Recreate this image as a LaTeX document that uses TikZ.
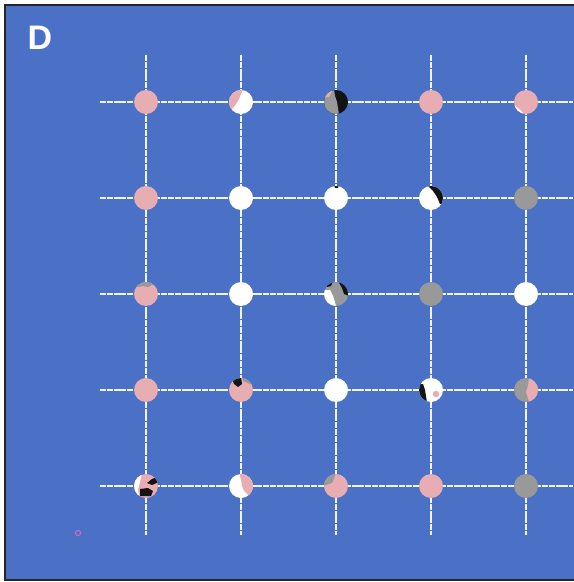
\documentclass[tikz,border=0pt]{standalone}
\usepackage{fontspec}
\setsansfont{Liberation Sans}

\definecolor{panelblue}{HTML}{4A71C6}
\definecolor{dotpink}{HTML}{E8ADB2}
\definecolor{dotgrey}{HTML}{999999}
\definecolor{dotblack}{HTML}{141414}
\definecolor{markpink}{HTML}{D66CC0}

% clipped part of a dot: node, colour, path in local px
\newcommand{\dotpart}[3]{%
  \begin{scope}[shift={(#1.center)}]
    \clip (0,0) circle (12);
    \fill[#2] #3;
  \end{scope}}

\begin{document}
\begin{tikzpicture}[
    x=0.5pt, y=-0.5pt,
    % Styles
    gridline/.style={draw=white!92!panelblue, line width=0.55pt, dash pattern=on 3pt off 0.4pt},
    dot/.style={circle, minimum size=12pt, inner sep=0pt, draw=none},
    pinkdot/.style={dot, fill=dotpink},
    whitedot/.style={dot, fill=white},
    greydot/.style={dot, fill=dotgrey},
    blackdot/.style={dot, fill=dotblack},
    panellabel/.style={text=white, font=\sffamily\bfseries\fontsize{17}{17}\selectfont},
]

%--- Panel ---%
\useasboundingbox (0,0) rectangle (573,582);
\fill[white] (0,0) rectangle (573,582);
\fill[panelblue, draw=black!85, line width=0.8pt] (5,5) rectangle (580,580);

\node[panellabel] (lbl) at (40,38) {D};

%--- Grid lines ---
% columns x: 146, 241, 336, 431, 526
% rows    y: 102, 198, 294, 390, 486
\foreach \i/\x in {1/146, 2/241, 3/336, 4/431, 5/526} {
    \coordinate (vt\i) at (\x,55);
    \coordinate (vb\i) at (\x,535);
    \draw[gridline] (vt\i) -- (vb\i);
}
\foreach \j/\y in {1/102, 2/198, 3/294, 4/390, 5/486} {
    \coordinate (hl\j) at (100,\y);
    \coordinate (hr\j) at (573,\y);
    \draw[gridline] (hl\j) -- (hr\j);
}

%--- Dots ---
% row 1
\node[pinkdot]  (r1c1) at (146,102) {};
\node[whitedot] (r1c2) at (241,102) {};
\node[blackdot] (r1c3) at (336,102) {};
\node[pinkdot]  (r1c4) at (431,102) {};
\node[pinkdot]  (r1c5) at (526,102) {};
% row 2
\node[pinkdot]  (r2c1) at (146,198) {};
\node[whitedot] (r2c2) at (241,198) {};
\node[whitedot] (r2c3) at (336,198) {};
\node[whitedot] (r2c4) at (431,198) {};
\node[greydot]  (r2c5) at (526,198) {};
% row 3
\node[pinkdot]  (r3c1) at (146,294) {};
\node[whitedot] (r3c2) at (241,294) {};
\node[greydot]  (r3c3) at (336,294) {};
\node[greydot]  (r3c4) at (431,294) {};
\node[whitedot] (r3c5) at (526,294) {};
% row 4
\node[pinkdot]  (r4c1) at (146,390) {};
\node[pinkdot]  (r4c2) at (241,390) {};
\node[whitedot] (r4c3) at (336,390) {};
\node[whitedot] (r4c4) at (431,390) {};
\node[greydot]  (r4c5) at (526,390) {};
% row 5
\node[pinkdot]  (r5c1) at (146,486) {};
\node[whitedot] (r5c2) at (241,486) {};
\node[pinkdot]  (r5c3) at (336,486) {};
\node[pinkdot]  (r5c4) at (431,486) {};
\node[greydot]  (r5c5) at (526,486) {};

%--- Mixed dots ---
\dotpart{r1c2}{dotpink}{(-13,-13) -- (2,-13) -- (0,-8) -- (-2,-3) -- (-5,2) -- (-8,6) -- (-13,9) -- cycle}
\dotpart{r1c3}{dotgrey}{(-13,-13) -- (-2,-13) -- (-1,-6) -- (1,0) -- (2,6) -- (3,13) -- (-13,13) -- cycle}
\dotpart{r1c3}{dotpink}{(-13,-13) -- (-3,-13) -- (-7,-5) -- (-13,-5) -- cycle}
\dotpart{r1c4}{dotgrey}{(13,3) -- (8,9) -- (2,13) -- (13,13) -- cycle}
\dotpart{r1c5}{white}{(-13,2) -- (-6,8) -- (-1,13) -- (-13,13) -- cycle}

\dotpart{r2c3}{dotblack}{(-2,-13) -- (3,-13) -- (2,-10) -- (-1,-10) -- cycle}
\dotpart{r2c4}{dotblack}{(-4,-13) -- (2,-7) -- (6,-1) -- (9,6) -- (14,6) -- (14,-14) -- (-4,-14) -- cycle}

\dotpart{r3c1}{dotgrey}{(-13,-14) -- (13,-14) -- (13,-8) -- (6,-9) -- (2,-7) -- (-3,-8) -- (-8,-7) -- (-13,-8) -- cycle}
\dotpart{r3c3}{white}{(-13,-4) -- (-6,-4) -- (-3,2) -- (-1,8) -- (0,13) -- (-13,13) -- cycle}
\dotpart{r3c3}{dotblack}{(2,-13) -- (6,-6) -- (8,0) -- (13,2) -- (13,-13) -- cycle}
\dotpart{r3c3}{dotblack}{(-8,-13) -- (-3,-13) -- (-5,-8) -- (-9,-7) -- cycle}

\dotpart{r4c2}{dotblack}{(-9,-11) -- (0,-13) -- (1,-6) -- (-3,-3) -- (-7,-6) -- cycle}
\dotpart{r4c2}{dotgrey}{(2,-13) -- (11,-8) -- (9,-6) -- (2,-9) -- cycle}
\dotpart{r4c4}{dotblack}{(-13,-6) -- (-8,-6) -- (-6,0) -- (-5,6) -- (-4,13) -- (-13,13) -- cycle}
\dotpart{r4c4}{dotpink}{(5,4) circle (3.2)}
\dotpart{r4c5}{dotpink}{(3,-13) -- (2,-4) -- (0,2) -- (2,8) -- (3,13) -- (13,13) -- (13,-13) -- cycle}

\dotpart{r5c1}{white}{(-13,-13) -- (-4,-13) -- (-6,-4) -- (-8,4) -- (-6,13) -- (-13,13) -- cycle}
\dotpart{r5c1}{dotblack}{(1,-3) -- (6,-7) -- (11,-9) -- (13,-4) -- (6,-1) -- cycle}
\dotpart{r5c1}{dotblack}{(-6,3) -- (2,2) -- (7,5) -- (5,10) -- (-6,10) -- cycle}
\dotpart{r5c2}{dotpink}{(-2,-14) -- (14,-14) -- (14,14) -- (8,10) -- (3,5) -- (1,0) -- (0,-6) -- cycle}
\dotpart{r5c3}{dotgrey}{(-13,-13) -- (0,-13) -- (-2,-8) -- (-4,-3) -- (-13,0) -- cycle}

%--- Small mark ---
\node[circle, draw=markpink, line width=0.5pt, minimum size=2.6pt, inner sep=0pt] (mark) at (78,533) {};

\end{tikzpicture}
\end{document}
